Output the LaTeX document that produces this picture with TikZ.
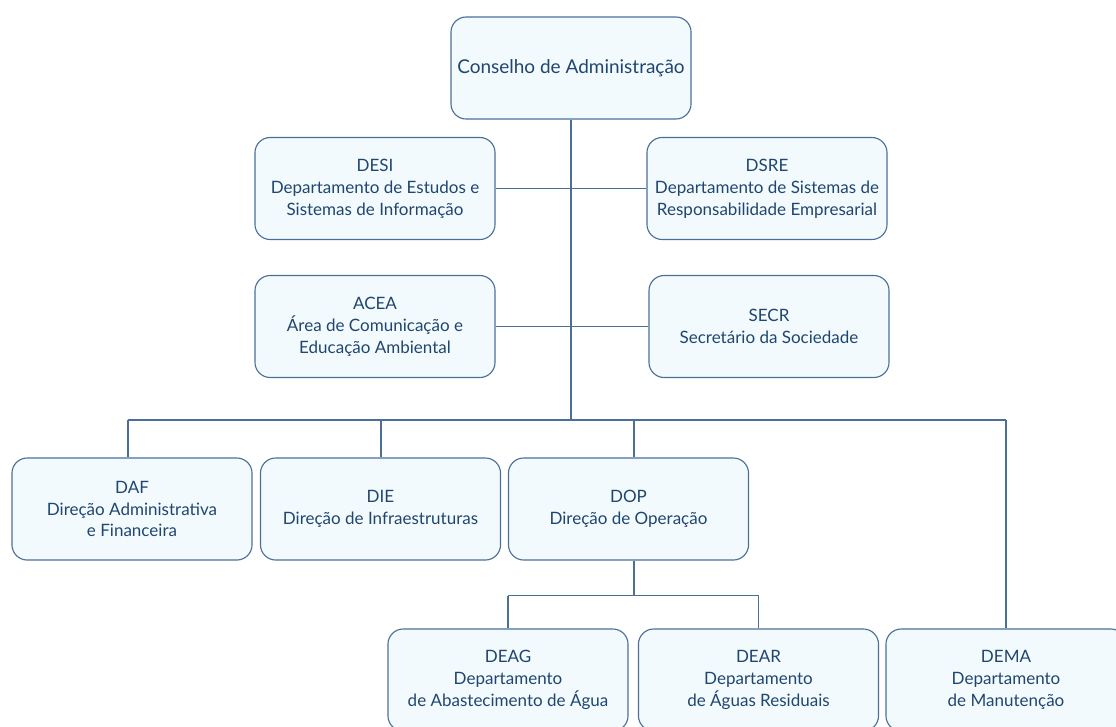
\documentclass[tikz,border=0pt]{standalone}
\usepackage{fontspec}
\setmainfont{Lato}
\usetikzlibrary{positioning,calc}
\definecolor{orgline}{HTML}{4A7098}
\definecolor{orgfill}{HTML}{F3FAFE}
\definecolor{orgtext}{HTML}{1F466E}

\begin{document}
\begin{tikzpicture}[x=0.025cm, y=-0.025cm,
    unit/.style={draw=orgline, line width=0.8pt, fill=orgfill, rounded corners=0.38cm,
        align=center, text=orgtext, minimum width=6cm, minimum height=2.55cm,
        inner sep=2pt, font=\fontsize{12.1}{15.6}\selectfont},
    link/.style={draw=orgline, line width=0.8pt}]
        \clip (0,0) rectangle (1116,726);
        % Nodes
        \node[unit, font=\fontsize{13.5}{16}\selectfont] (conselho) at (571,68) {Conselho de Administração};
        \node[unit] (desi) at (375,188.5) {DESI\\Departamento de Estudos e\\Sistemas de Informação};
        \node[unit] (dsre) at (767,188.5) {DSRE\\Departamento de Sistemas de\\Responsabilidade Empresarial};
        \node[unit] (acea) at (375,326.5) {ACEA\\Área de Comunicação e\\Educação Ambiental};
        \node[unit] (secr) at (769,326.5) {SECR\\Secretário da Sociedade};
        \node[unit] (daf) at (132,509) {DAF\\Direção Administrativa\\e Financeira};
        \node[unit] (die) at (380.5,509) {DIE\\Direção de Infraestruturas};
        \node[unit] (dop) at (628.5,509) {DOP\\Direção de Operação};
        \node[unit] (deag) at (508,680) {DEAG\\Departamento\\de Abastecimento de Água};
        \node[unit] (dear) at (758.5,680) {DEAR\\Departamento\\de Águas Residuais};
        \node[unit] (dema) at (1006,680) {DEMA\\Departamento\\de Manutenção};

        % Connectors
        \coordinate (bus) at (571,420);
        \draw[link] (conselho.south) -- (bus);
        \draw[link] (desi.east) -- (dsre.west);
        \draw[link] (acea.east) -- (secr.west);
        \coordinate (daftop) at ($(daf.north)+(-4,0)$);
        \draw[link] (daftop |- bus) -- (dema.north |- bus);
        \foreach \n/\dx in {daf/-4,die/0.5,dop/5.5,dema/0} {
            \coordinate (top) at ($(\n.north)+(\dx,0)$);
            \draw[link] (top |- bus) -- (top);
        }
        \coordinate (dopbot) at ($(dop.south)+(5.5,0)$);
        \coordinate (dopbus) at ($(dopbot)+(0,35)$);
        \draw[link] (dopbot) -- (dopbus);
        \draw[link] (deag.north |- dopbus) -- (dear.north |- dopbus);
        \foreach \n in {deag,dear}
            \draw[link] (\n.north |- dopbus) -- (\n.north);
    \end{tikzpicture}
\end{document}
